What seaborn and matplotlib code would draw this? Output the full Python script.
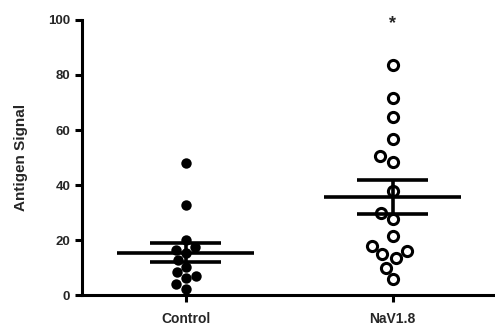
import numpy as np
import pandas as pd
import matplotlib
matplotlib.use('Agg')
import matplotlib.pyplot as plt
import seaborn as sns

# values
groups = ['Control', 'NaV1.8']
control = [48.0, 32.7, 20.0, 17.5, 15.3, 16.4, 12.7, 10.2, 8.4, 6.2, 6.9, 4.0, 2.2]
nav18 = [83.6, 71.7, 64.6, 56.6, 50.5, 48.5, 37.8, 29.9, 27.5, 21.6,
         17.9, 14.8, 16.1, 13.3, 9.9, 5.7]
yticks = [0, 20, 40, 60, 80, 100]

df = pd.DataFrame({
    'group': ['Control'] * len(control) + ['NaV1.8'] * len(nav18),
    'signal': control + nav18,
})
stats = df.groupby('group')['signal'].agg(['mean', 'sem']).reindex(groups)

sns.set_theme(style='ticks')
plt.rcParams['font.family'] = ['Liberation Sans', 'DejaVu Sans']
plt.rcParams['font.weight'] = 'bold'

fig = plt.figure(figsize=(4.95, 3.33), dpi=100)
ax = fig.add_axes([0.166, 0.114, 0.836, 0.826])

sns.swarmplot(data=df[df['group'] == 'Control'], x='group', y='signal',
              order=groups, color='black', size=7.5, ax=ax)
sns.swarmplot(data=df[df['group'] == 'NaV1.8'], x='group', y='signal',
              order=groups, color='white', edgecolor='black', linewidth=2.2,
              size=7.3, ax=ax)

# mean +/- SEM
for i, g in enumerate(groups):
    m, s = stats.loc[g, 'mean'], stats.loc[g, 'sem']
    ax.hlines(m, i - 0.33, i + 0.33, color='black', lw=2.6, zorder=5)
    ax.hlines([m - s, m + s], i - 0.17, i + 0.17, color='black', lw=2.6, zorder=5)
    ax.vlines(i, m - s, m + s, color='black', lw=2.6, zorder=5)

ax.text(1, 98.8, '*', ha='center', va='center', fontsize=13, fontweight='bold')

ax.set_xlim(-0.5, 1.5)
ax.set_ylim(0, 100)
ax.set_yticks(yticks)
ax.set_xlabel('')
ax.set_ylabel('Antigen Signal', fontsize=11, fontweight='bold')
ax.yaxis.set_label_coords(-0.13, 0.5)
ax.tick_params(axis='both', width=2.2, length=5, color='black')
ax.tick_params(axis='y', labelsize=9.5)
ax.tick_params(axis='x', labelsize=10, pad=7)
for lab in ax.get_xticklabels() + ax.get_yticklabels():
    lab.set_fontweight('bold')
ax.spines[['top', 'right']].set_visible(False)
for sp in ['left', 'bottom']:
    ax.spines[sp].set_linewidth(2.2)
    ax.spines[sp].set_color('black')

fig.savefig('out.png', dpi=100)
